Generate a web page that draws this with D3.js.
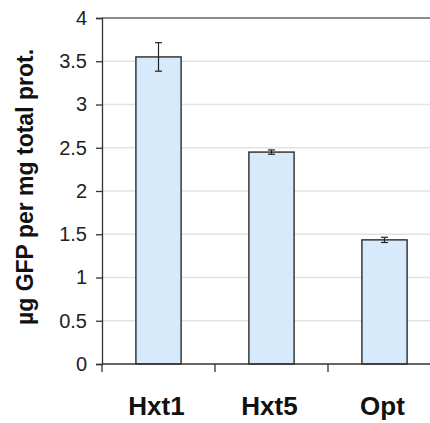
<!DOCTYPE html>
<html>
<head>
<meta charset="utf-8">
<script src="https://cdn.jsdelivr.net/npm/d3@7"></script>
<style>
  body { margin: 0; background: #fff; }
  svg { display: block; font-family: "Liberation Sans", Arial, sans-serif; }
</style>
</head>
<body>
<div class="chart"></div>
<script>
const categories = ["Hxt1", "Hxt5", "Opt"];
const values = [3.55, 2.45, 1.435];
const errors = [0.165, 0.025, 0.03];
const yTicks = [0, 0.5, 1, 1.5, 2, 2.5, 3, 3.5, 4];

const width = 430;
const height = 423;
const plotLeft = 102;
const plotTop = 18;
const plotBottom = 364;
const step = 113;

const data = categories.map((c, i) => ({ name: c, value: values[i], err: errors[i] }));

const svg = d3
  .select(".chart")
  .append("svg")
  .attr("width", width)
  .attr("height", height);

const yScale = d3.scaleLinear().domain([0, 4]).range([plotBottom, plotTop]);

const xScale = d3
  .scaleBand()
  .domain(categories)
  .range([plotLeft, plotLeft + step * categories.length])
  .paddingInner(0.6)
  .paddingOuter(0.3);

// gridlines
svg
  .append("g")
  .selectAll("line")
  .data(yTicks.filter((d) => d > 0 && d < 4))
  .enter()
  .append("line")
  .attr("x1", plotLeft)
  .attr("x2", width)
  .attr("y1", (d) => yScale(d))
  .attr("y2", (d) => yScale(d))
  .attr("stroke", "#e2e2e2")
  .attr("stroke-width", 1.5);

// top border
svg
  .append("line")
  .attr("x1", plotLeft)
  .attr("x2", width)
  .attr("y1", yScale(4))
  .attr("y2", yScale(4))
  .attr("stroke", "#666")
  .attr("stroke-width", 1.5);

// y axis
const yAxis = svg
  .append("g")
  .attr("transform", `translate(${plotLeft},0)`)
  .call(
    d3.axisLeft(yScale)
      .tickValues(yTicks)
      .tickSize(6)
      .tickPadding(9)
      .tickFormat((d) => d.toString())
  );
yAxis.select(".domain").attr("stroke", "#333").attr("stroke-width", 1.3);
yAxis.selectAll(".tick line").attr("stroke", "#333").attr("stroke-width", 1.3);
yAxis
  .selectAll(".tick text")
  .attr("font-size", "20px")
  .attr("fill", "#222")
  .attr("font-family", "Liberation Sans, Arial, sans-serif");

// bars
svg
  .append("g")
  .selectAll("rect")
  .data(data)
  .enter()
  .append("rect")
  .attr("x", (d) => xScale(d.name))
  .attr("y", (d) => yScale(d.value))
  .attr("width", xScale.bandwidth())
  .attr("height", (d) => yScale(0) - yScale(d.value))
  .attr("fill", "#d6eafc")
  .attr("stroke", "#2a2a2a")
  .attr("stroke-width", 1.4);

// error bars
const errG = svg.append("g").attr("stroke", "#222").attr("stroke-width", 1.2);
data.forEach((d) => {
  const cx = xScale(d.name) + xScale.bandwidth() / 2;
  errG
    .append("line")
    .attr("x1", cx)
    .attr("x2", cx)
    .attr("y1", yScale(d.value + d.err))
    .attr("y2", yScale(d.value - d.err));
  [d.value + d.err, d.value - d.err].forEach((v) => {
    errG
      .append("line")
      .attr("x1", cx - 3.5)
      .attr("x2", cx + 3.5)
      .attr("y1", yScale(v))
      .attr("y2", yScale(v));
  });
});

// x axis line and category boundary ticks
svg
  .append("line")
  .attr("x1", plotLeft)
  .attr("x2", width)
  .attr("y1", yScale(0))
  .attr("y2", yScale(0))
  .attr("stroke", "#333")
  .attr("stroke-width", 1.3);

svg
  .append("g")
  .selectAll("line")
  .data(categories)
  .enter()
  .append("line")
  .attr("x1", (d) => xScale(d) - xScale.step() * 0.3)
  .attr("x2", (d) => xScale(d) - xScale.step() * 0.3)
  .attr("y1", yScale(0))
  .attr("y2", yScale(0) + 8)
  .attr("stroke", "#333")
  .attr("stroke-width", 1.3);

// category labels
svg
  .append("g")
  .selectAll("text")
  .data(categories)
  .enter()
  .append("text")
  .attr("x", (d) => xScale(d) + xScale.bandwidth() / 2 - 2)
  .attr("y", 415)
  .attr("text-anchor", "middle")
  .attr("font-size", "26px")
  .attr("font-weight", "bold")
  .attr("fill", "#111")
  .text((d) => d);

// y axis title
svg
  .append("text")
  .attr("transform", "translate(33, 187) rotate(-90)")
  .attr("text-anchor", "middle")
  .attr("font-size", "23px")
  .attr("font-weight", "bold")
  .attr("fill", "#111")
  .text("µg GFP per mg total prot.");
</script>
</body>
</html>
